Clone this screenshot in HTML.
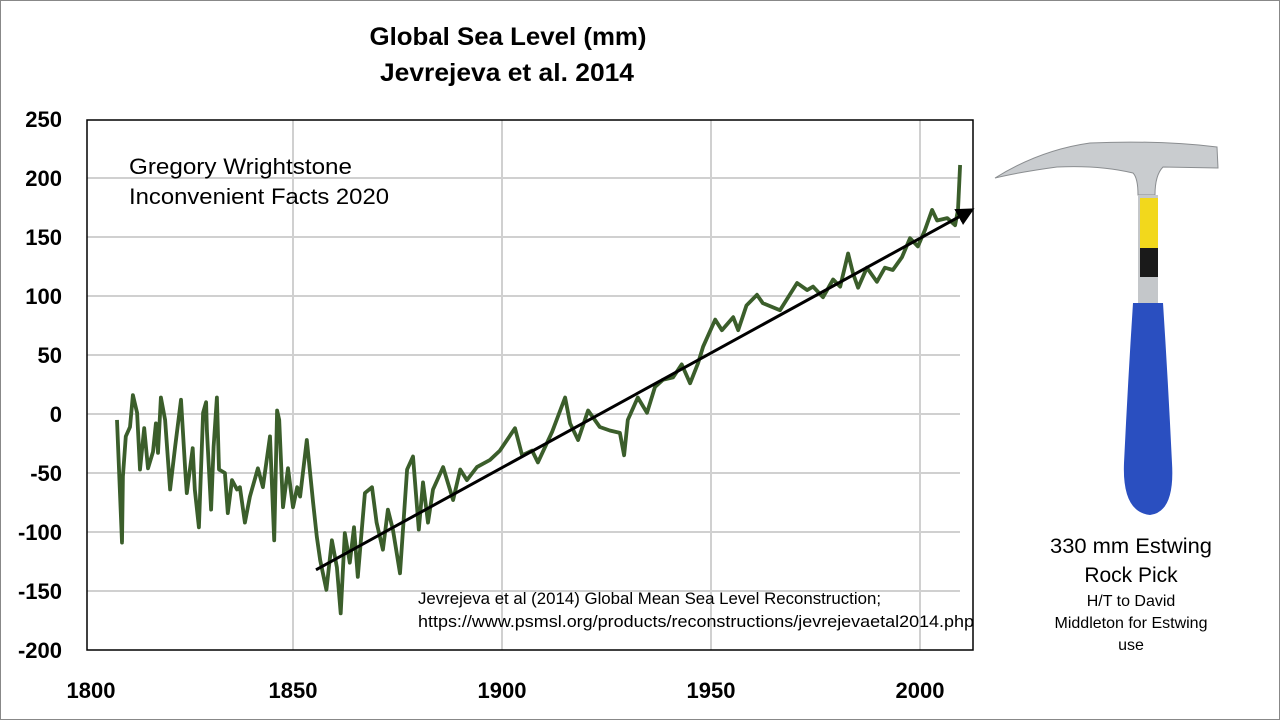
<!DOCTYPE html>
<html><head><meta charset="utf-8"><style>
body{margin:0;background:#fff}
svg{display:block}
text{font-family:"Liberation Sans",sans-serif}
</style></head><body>
<svg id="chart" width="1280" height="720" viewBox="0 0 1280 720">
<rect x="0.5" y="0.5" width="1279" height="719" fill="#fff" stroke="#888"/>
<text x="508" y="45" text-anchor="middle" font-size="25" font-weight="bold" textLength="277" lengthAdjust="spacingAndGlyphs">Global Sea Level (mm)</text>
<text x="507" y="81" text-anchor="middle" font-size="25" font-weight="bold" textLength="254" lengthAdjust="spacingAndGlyphs">Jevrejeva et al. 2014</text>
<g id="grid"></g>
<g id="yticks"></g>
<g id="xticks"></g>
<rect x="87" y="120" width="886" height="530" fill="none" stroke="#000" stroke-width="1.5"/>
<g id="series"></g>
<text x="129" y="174" font-size="22" textLength="223" lengthAdjust="spacingAndGlyphs">Gregory Wrightstone</text>
<text x="129" y="204" font-size="22" textLength="260" lengthAdjust="spacingAndGlyphs">Inconvenient Facts 2020</text>
<text x="418" y="604" font-size="17" textLength="463" lengthAdjust="spacingAndGlyphs">Jevrejeva et al (2014) Global Mean Sea Level Reconstruction;</text>
<text x="418" y="627" font-size="17" textLength="556" lengthAdjust="spacingAndGlyphs">https://www.psmsl.org/products/reconstructions/jevrejevaetal2014.php</text>
<g>
<path d="M995,178 Q1040,150 1090,143 Q1160,140 1217,147 L1218,168 L1163,167 Q1155,175 1155,195 L1138,195 Q1138,178 1133,173 Q1100,165 1057,167 Q1020,172 995,178 Z" fill="#c9cccf" stroke="#8a8d90"/>
<rect x="1138" y="195" width="20" height="110" fill="#c4c7ca"/>
<rect x="1140" y="198" width="18" height="50" fill="#f2d81c"/>
<rect x="1140" y="248" width="18" height="29" fill="#1a1a1a"/>
<path d="M1133,303 L1163,303 Q1168,380 1172,463 Q1175,512 1150,515 Q1122,512 1124,463 Q1128,380 1133,303 Z" fill="#2a4fc0"/>
</g>
<text x="1131" y="553" text-anchor="middle" font-size="21" textLength="162" lengthAdjust="spacingAndGlyphs">330 mm Estwing</text>
<text x="1131" y="582" text-anchor="middle" font-size="21">Rock Pick</text>
<text x="1131" y="606" text-anchor="middle" font-size="16">H/T to David</text>
<text x="1131" y="628" text-anchor="middle" font-size="16">Middleton for Estwing</text>
<text x="1131" y="650" text-anchor="middle" font-size="16">use</text>
</svg>
<script>
const years=[1807.9,1809.1,1809.3,1810,1811,1811.7,1812.7,1813.4,1814.4,1815.3,1816.5,1817.2,1817.7,1818.4,1819.4,1820.6,1821.8,1823.2,1824.2,1824.6,1826,1826.5,1827.5,1828.5,1829.2,1829.4,1830.4,1831,1831.8,1832.3,1833.7,1834.4,1835.4,1836.6,1837.3,1838.5,1839.7,1841.6,1842.8,1844.5,1845.5,1846.2,1846.7,1847.6,1848.8,1850,1851,1851.7,1853.3,1854.8,1855.7,1856.5,1858,1859.3,1860.5,1861.4,1862.4,1863.6,1864.6,1865.5,1867.2,1868.9,1870,1871.5,1872.7,1873.9,1875.6,1877.3,1878.7,1880.1,1881.1,1882.3,1883.5,1885.9,1888.3,1890,1891.6,1894,1897.1,1899.5,1903.1,1904.8,1907.2,1908.6,1912,1915.1,1916.3,1918.2,1920.6,1923.4,1925.8,1928.2,1929.2,1930.1,1932.5,1934.7,1936.6,1938.5,1940.9,1943,1945,1946.9,1948.1,1951,1952.6,1955.3,1956.5,1958.5,1961,1962.4,1966.5,1970.6,1973,1974.4,1976.8,1979.2,1980.9,1982.8,1984,1985.2,1987.3,1989.7,1991.6,1993.5,1995.7,1997.6,1999.5,2001.2,2002.9,2004.1,2006.5,2008.4,2009.1,2009.6];
const seaLevel=[-5,-109,-53,-19,-11,16,1,-47,-12,-46,-32,-8,-33,14,-5,-64,-28,12,-47,-67,-29,-64,-96,1,10,-14,-81,-28,14,-47,-50,-84,-56,-64,-62,-92,-70,-46,-62,-19,-107,3,-5,-79,-46,-79,-62,-70,-22,-75,-104,-124,-149,-107,-130,-169,-101,-126,-96,-138,-67,-62,-92,-115,-81,-98,-135,-47,-36,-98,-58,-92,-64,-45,-73,-47,-56,-45,-39,-31,-12,-35,-31,-41,-15,14,-8,-22,3,-11,-14,-16,-35,-5,14,1,23,29,31,42,26,43,57,80,71,82,71,92,101,94,88,111,105,108,99,114,108,136,119,107,124,112,124,122,133,149,142,156,173,164,166,160,173,211];
const trendYears=[1855.5,2012.4];
const trendValues=[-132,173];
const yTicks=[250,200,150,100,50,0,-50,-100,-150,-200];
const xTicks=[1800,1850,1900,1950,2000];

const NS='http://www.w3.org/2000/svg';
function xs(yr){return 293+(yr-1850)*4.18;}
function ys(v){return 414-v*1.18;}
function mk(tag,attrs,parent){const e=document.createElementNS(NS,tag);for(const k in attrs)e.setAttribute(k,attrs[k]);document.getElementById(parent).appendChild(e);return e;}

yTicks.forEach(v=>{
  if(v!==250&&v!==-200){
    const g=mk('line',{x1:87,x2:960,y1:ys(v),y2:ys(v),stroke:'#d0d0d0','stroke-width':2},'grid');
    
    
  }
  const t=mk('text',{x:62,y:ys(v)+8,'text-anchor':'end','font-size':22,'font-weight':'bold'},'yticks');
  t.textContent=v;
  
  
});
xTicks.forEach(yr=>{
  if(yr>1800){
    const g=mk('line',{x1:xs(yr),x2:xs(yr),y1:120,y2:650,stroke:'#d0d0d0','stroke-width':2},'grid');
    
    
  }
  const t=mk('text',{x:yr===1800?91:xs(yr),y:698,'text-anchor':'middle','font-size':22,'font-weight':'bold'},'xticks');
  t.textContent=yr;
  
  
});
const pts=years.map((y,i)=>xs(y).toFixed(1)+','+ys(seaLevel[i]).toFixed(1)).join(' ');
const line=mk('polyline',{points:pts,fill:'none',stroke:'#3b5e2b','stroke-width':3.8,'stroke-linejoin':'round'},'series');


const defs=mk('defs',{},'series');
const m=document.createElementNS(NS,'marker');
m.setAttribute('id','arr');m.setAttribute('markerWidth','6');m.setAttribute('markerHeight','6');m.setAttribute('refX','5');m.setAttribute('refY','3');m.setAttribute('orient','auto');
const mp=document.createElementNS(NS,'path');mp.setAttribute('d','M0,0 L6,3 L0,6 Z');mp.setAttribute('fill','#000');m.appendChild(mp);defs.appendChild(m);
const tr=mk('line',{x1:xs(trendYears[0]),y1:ys(trendValues[0]),x2:xs(trendYears[1]),y2:ys(trendValues[1]),stroke:'#000','stroke-width':3,'marker-end':'url(#arr)'},'series');


</script>
</body></html>
